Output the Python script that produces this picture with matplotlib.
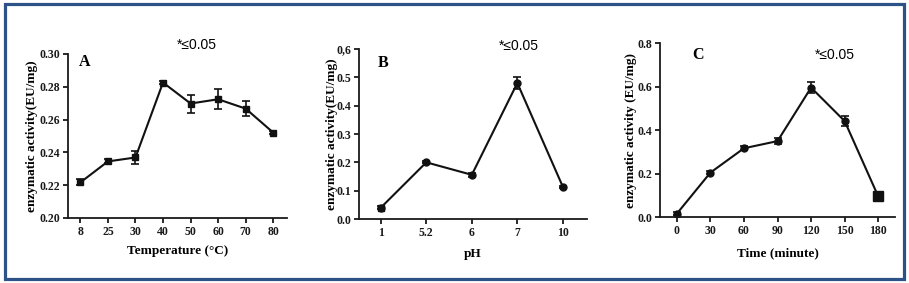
import matplotlib.pyplot as plt
from matplotlib.patches import Rectangle

# Panel A - temperature
temp_labels = ["8", "25", "30", "40", "50", "60", "70", "80"]
temp_act = [0.2217, 0.2345, 0.2369, 0.2826, 0.2698, 0.2724, 0.2667, 0.2521]
temp_err = [0.0018, 0.0012, 0.0040, 0.0010, 0.0055, 0.0060, 0.0045, 0.0010]

# Panel B - pH
ph_labels = ["1", "5.2", "6", "7", "10"]
ph_act = [0.040, 0.200, 0.156, 0.480, 0.114]
ph_err = [0.006, 0.004, 0.007, 0.020, 0.004]

# Panel C - time
time_min = [0, 30, 60, 90, 120, 150, 180]
time_act = [0.015, 0.204, 0.316, 0.349, 0.595, 0.441, 0.095]
time_err = [0.008, 0.006, 0.010, 0.015, 0.025, 0.022, 0.005]

plt.rcParams['font.family'] = ['Liberation Serif', 'DejaVu Serif']
plt.rcParams['font.weight'] = 'bold'

fig = plt.figure(figsize=(9.09, 2.83), dpi=100)
fig.patches.append(Rectangle((4.5 / 909, 4 / 283), 899 / 909, 275.5 / 283,
                             transform=fig.transFigure, fill=False,
                             edgecolor='#2c5288', linewidth=2.3))

axA = fig.add_axes([0.0748, 0.2297, 0.2409, 0.5795])
axB = fig.add_axes([0.3949, 0.2261, 0.2508, 0.6007])
axC = fig.add_axes([0.7261, 0.2332, 0.2585, 0.6148])


def style(ax):
    for s in ['top', 'right']:
        ax.spines[s].set_visible(False)
    for s in ['left', 'bottom']:
        ax.spines[s].set_linewidth(1.3)
        ax.spines[s].set_color('#1a1a1a')
    ax.tick_params(direction='out', length=3.5, width=1.3, labelsize=8.5,
                   colors='#1a1a1a', pad=2)
    for lab in ax.get_xticklabels() + ax.get_yticklabels():
        lab.set_fontweight('bold')


ekw = dict(color='#111111', ecolor='#111111', elinewidth=1.2, capsize=2.8,
           capthick=1.2, linewidth=1.5)

# A
xa = list(range(len(temp_labels)))
axA.errorbar(xa, temp_act, yerr=temp_err, marker='s', markersize=5, **ekw)
axA.set_xlim(-0.45, 7.5)
axA.set_ylim(0.20, 0.30)
axA.set_xticks(xa)
axA.set_xticklabels(temp_labels)
axA.set_yticks([0.20, 0.22, 0.24, 0.26, 0.28, 0.30])
axA.set_yticklabels(["0.20", "0.22", "0.24", "0.26", "0.28", "0.30"])
axA.set_xlabel("Temperature (°C)", fontsize=9.5, fontweight='bold')
axA.set_ylabel("enzymatic activity(EU/mg)", fontsize=9.5, fontweight='bold')
axA.xaxis.set_label_coords(0.5, -0.165)
axA.yaxis.set_label_coords(-0.138, 0.5)
axA.text(0.078, 0.95, "A", transform=axA.transAxes, fontsize=11.5,
         fontweight='bold', ha='center', va='center')
axA.text(0.59, 1.055, "*≤0.05", transform=axA.transAxes, fontsize=10,
         family='Liberation Sans', fontweight='normal', ha='center', va='center')
style(axA)

# B
xb = list(range(len(ph_labels)))
axB.errorbar(xb, ph_act, yerr=ph_err, marker='o', markersize=5, **ekw)
axB.plot(xb[0], ph_act[0], marker='s', markersize=5, color='#111111')
axB.set_xlim(-0.48, 4.53)
axB.set_ylim(0.0, 0.6)
axB.set_xticks(xb)
axB.set_xticklabels(ph_labels)
axB.set_yticks([0.0, 0.1, 0.2, 0.3, 0.4, 0.5, 0.6])
axB.set_yticklabels(["0.0", "0.1", "0.2", "0.3", "0.4", "0.5", "0,6"])
axB.set_xlabel("pH", fontsize=9.5, fontweight='bold')
axB.set_ylabel("enzymatic activity(EU/mg)", fontsize=9.5, fontweight='bold')
axB.xaxis.set_label_coords(0.5, -0.17)
axB.yaxis.set_label_coords(-0.092, 0.5)
axB.text(0.105, 0.92, "B", transform=axB.transAxes, fontsize=11.5,
         fontweight='bold', ha='center', va='center')
axB.text(0.70, 1.02, "*≤0.05", transform=axB.transAxes, fontsize=10,
         family='Liberation Sans', fontweight='normal', ha='center', va='center')
style(axB)

# C
axC.errorbar(time_min, time_act, yerr=time_err, marker='o', markersize=5, **ekw)
axC.plot(time_min[-1], time_act[-1], marker='s', markersize=7, color='#111111')
axC.set_xlim(-15, 195)
axC.set_ylim(0.0, 0.8)
axC.set_xticks(time_min)
axC.set_yticks([0.0, 0.2, 0.4, 0.6, 0.8])
axC.set_yticklabels(["0.0", "0.2", "0.4", "0.6", "0.8"])
axC.set_xlabel("Time (minute)", fontsize=9.5, fontweight='bold')
axC.set_ylabel("enzymatic activity (EU/mg)", fontsize=9.5, fontweight='bold')
axC.xaxis.set_label_coords(0.5, -0.172)
axC.yaxis.set_label_coords(-0.0975, 0.5)
axC.text(0.16, 0.93, "C", transform=axC.transAxes, fontsize=11.5,
         fontweight='bold', ha='center', va='center')
axC.text(0.745, 0.93, "*≤0.05", transform=axC.transAxes, fontsize=10,
         family='Liberation Sans', fontweight='normal', ha='center', va='center')
style(axC)

fig.savefig("out.png", dpi=100, facecolor='white')
